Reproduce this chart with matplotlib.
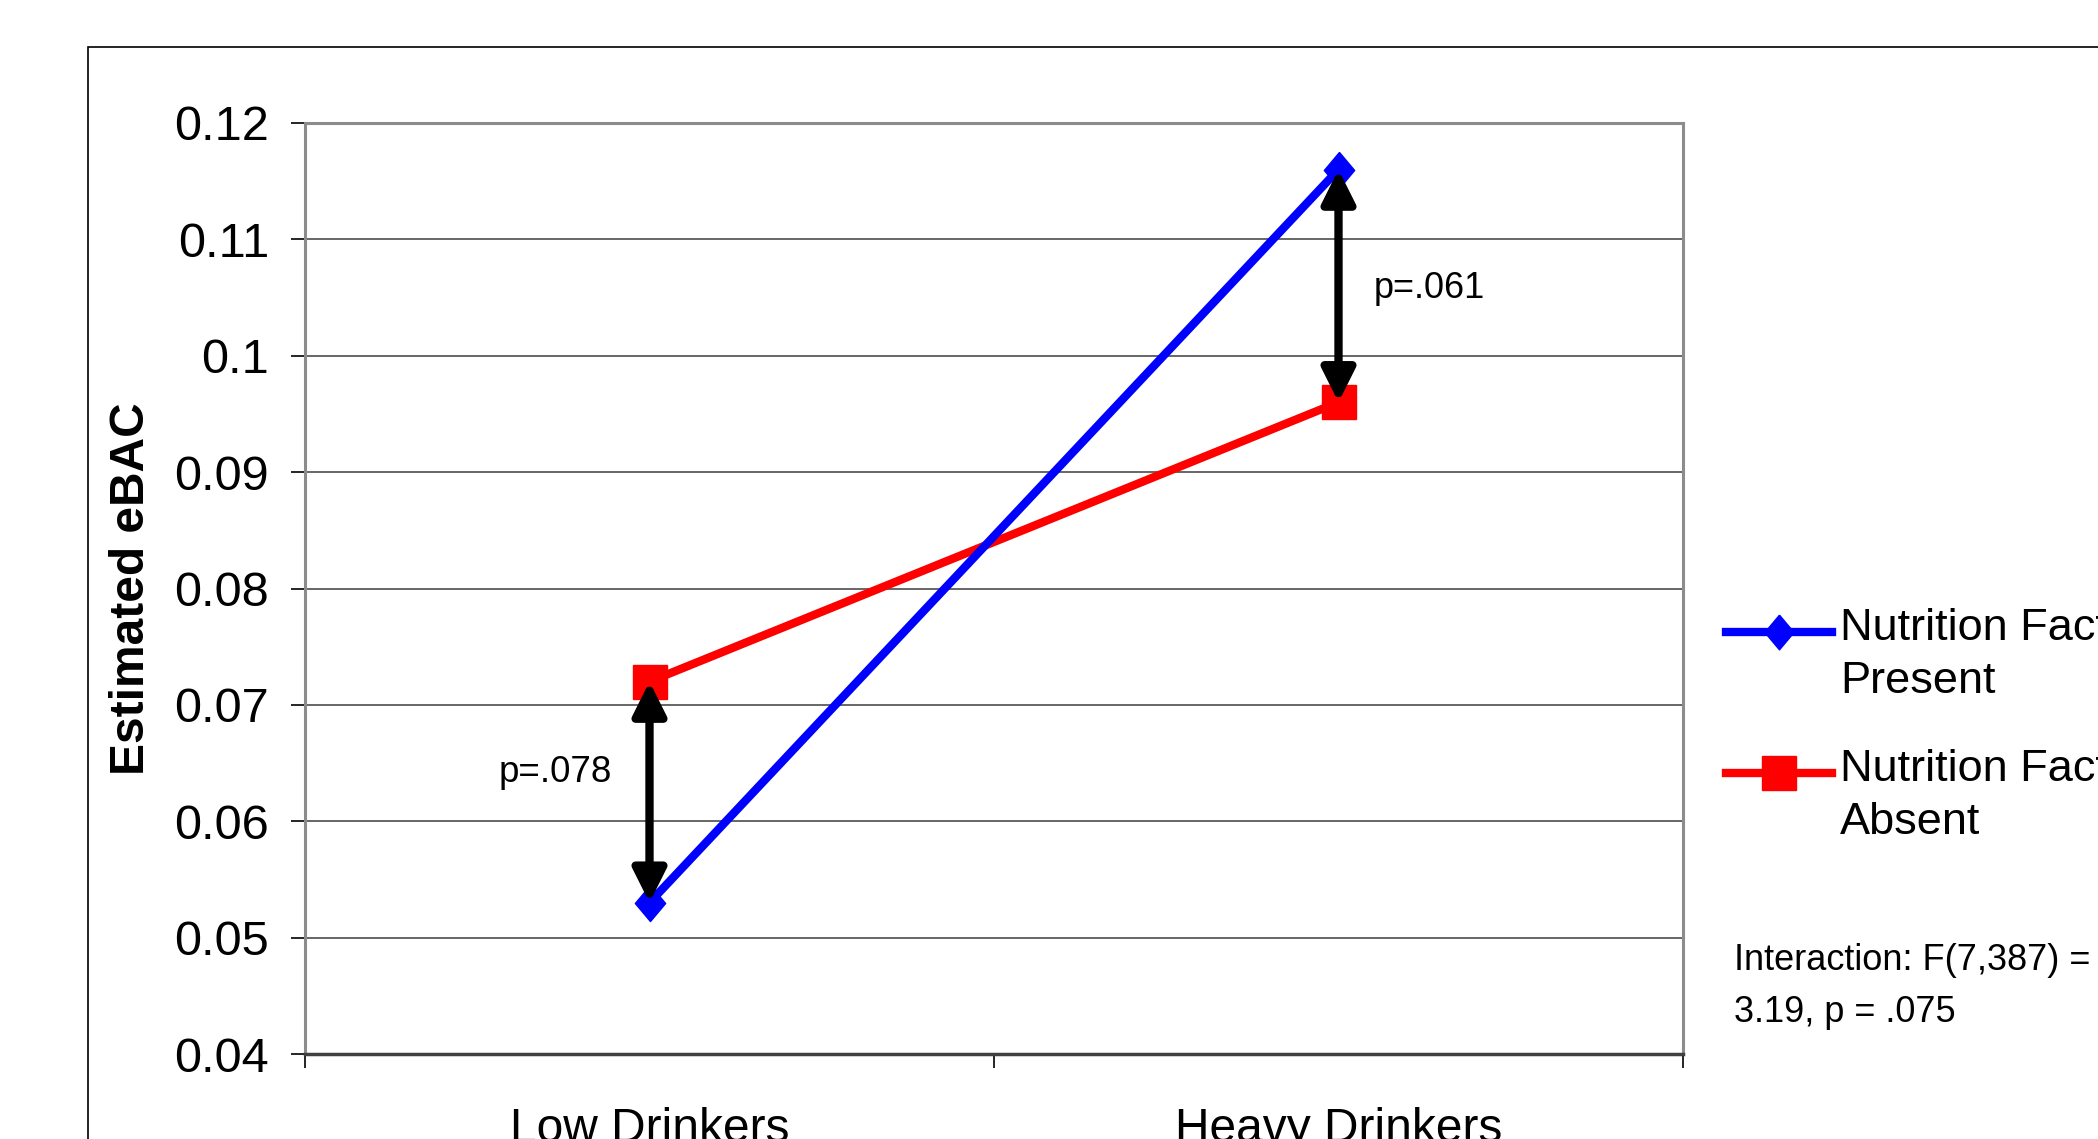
import matplotlib

matplotlib.use("Agg")
import matplotlib.pyplot as plt
from matplotlib.lines import Line2D
from matplotlib.patches import Rectangle

plt.rcParams["font.family"] = ["Liberation Sans", "DejaVu Sans"]

# data
categories = ["Low Drinkers", "Heavy Drinkers"]
present_vals = [0.053, 0.116]
absent_vals = [0.072, 0.096]
series_labels = ["Nutrition Facts\nPresent", "Nutrition Facts\nAbsent"]
p_labels = ["p=.078", "p=.061"]
y_ticks = [0.04, 0.05, 0.06, 0.07, 0.08, 0.09, 0.1, 0.11, 0.12]
y_tick_labels = ["0.04", "0.05", "0.06", "0.07", "0.08", "0.09", "0.1", "0.11", "0.12"]
interaction_note = "Interaction: F(7,387) =\n3.19, p = .075"

W, H = 2098, 1139
fig = plt.figure(figsize=(W / 100, H / 100), dpi=100)

# outer chart frame, running off the right/bottom edge as in the source
fig.patches.append(
    Rectangle((88 / W, -0.2), 1.2, 1 - 47 / H + 0.2, transform=fig.transFigure,
              fill=False, ec="black", lw=1.2)
)

ax = fig.add_axes([305 / W, 1 - 1054 / H, 1378 / W, 931 / H])

diamond = [(0, 1), (0.84, 0), (0, -1), (-0.84, 0), (0, 1)]
blue = "#0000FF"
red = "#FF0000"
x = list(range(len(categories)))

ax.plot(x, present_vals, color=blue, lw=6, marker=diamond, ms=26,
        mec=blue, mfc=blue, zorder=4, solid_capstyle="butt")
ax.plot(x, absent_vals, color=red, lw=6, marker="s", ms=25,
        mec=red, mfc=red, zorder=3, solid_capstyle="butt")

# double arrows showing the group differences
for xi, a, b in zip(x, absent_vals, present_vals):
    ax.annotate("", xy=(xi, b), xytext=(xi, a),
                arrowprops=dict(arrowstyle="<|-|>", color="black", lw=6,
                                mutation_scale=50, shrinkA=0, shrinkB=0),
                zorder=6)

ax.text(x[0] - 0.054, 0.0642, p_labels[0], fontsize=26.5, ha="right", va="center")
ax.text(x[1] + 0.051, 0.1058, p_labels[1], fontsize=26, ha="left", va="center")

ax.set_xlim(-0.5, 1.5)
ax.set_ylim(0.04, 0.12)
ax.set_yticks(y_ticks)
ax.set_yticklabels(y_tick_labels)
ax.set_xticks([-0.5, 0.5, 1.5])
ax.set_xticklabels([])
ax.set_xticks(x, minor=True)
ax.set_xticklabels(categories, minor=True)
ax.tick_params(axis="x", which="minor", length=0, pad=38, labelsize=34.5)
ax.tick_params(axis="x", which="major", length=10, width=1.2, color="black", direction="out")
ax.tick_params(axis="y", length=10, width=1.2, color="black", direction="out",
               pad=16, labelsize=35)

ax.grid(axis="y", color="#5a5a5a", lw=1.3)
ax.set_axisbelow(True)
for side in ["left", "right", "top"]:
    ax.spines[side].set_color("#8c8c8c")
    ax.spines[side].set_linewidth(2.2)
ax.spines["bottom"].set_color("#404040")
ax.spines["bottom"].set_linewidth(2.5)

ax.set_ylabel("Estimated eBAC", fontsize=34.5, fontweight="bold", va="center")
ax.yaxis.set_label_coords((131 - 305) / 1378, 0.5)

# legend, drawn by hand so the key sits on the first line of each label
legend_rows = [(632, blue, diamond, 25), (773, red, "s", 25)]
for (yy, col, mk, ms), lab in zip(legend_rows, series_labels):
    yf = 1 - yy / H
    fig.add_artist(Line2D([1726 / W, 1779 / W, 1832 / W], [yf, yf, yf],
                          transform=fig.transFigure, color=col, lw=6,
                          marker=mk, ms=ms, mec=col, mfc=col, markevery=[1]))
    fig.text(1840 / W, 1 - (yy - 24) / H, lab, fontsize=32.5, ha="left", va="top",
             linespacing=1.38)

fig.text(1734 / W, 1 - 943 / H, interaction_note, fontsize=26, ha="left", va="top",
         linespacing=1.62)

fig.savefig("out.png", dpi=100)
